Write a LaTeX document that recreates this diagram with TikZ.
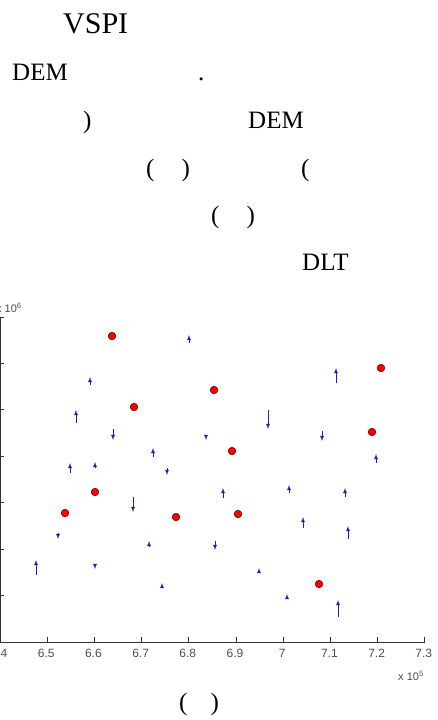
\documentclass[tikz,border=0pt]{standalone}
\usepackage{fontspec}
\setmainfont{Liberation Serif}
\setsansfont{Liberation Sans}
\usetikzlibrary{arrows,positioning}
\definecolor{mblue}{RGB}{30,30,190}
\tikzstyle{txt} = [
  inner sep = 0pt, anchor = base west, font = \fontsize{25}{30}\selectfont
]
\tikzstyle{ticklab} = [
  inner sep = 0pt, anchor = base, text = black!70,
  font = \sffamily\fontsize{12}{14}\selectfont
]
\tikzstyle{axis} = [draw = black!80, line width = 0.9pt]
\tikzstyle{gcp} = [fill = red, draw = black!60!red, line width = 0.6pt]
\tikzstyle{vec} = [-latex, draw = mblue, line width = 0.75pt]

\begin{document}
\begin{tikzpicture}[x=1pt, y=1pt]
    \useasboundingbox (0,0) rectangle (437,-720);

    % text lines above the plot
    \node[txt, font=\fontsize{30}{36}\selectfont] (vspi) at (63,-33) {VSPI};
    \node[txt] (dem-a) at (12,-80) {DEM};
    \node[txt] (stop) at (198,-80) {.};
    \node[txt] (close-a) at (83,-128) {)};
    \node[txt] (dem-b) at (248,-128) {DEM};
    \node[txt] (pair-a) at (146,-176) {(\hspace{27pt})};
    \node[txt] (open-a) at (301,-176) {(};
    \node[txt] (pair-b) at (211,-223) {(\hspace{27pt})};
    \node[txt] (dlt) at (302,-270) {DLT};

    % axes
    \draw[axis] (0,-317) -- (0,-642) -- (425,-642);
    \foreach \j in {0,...,6}
      \draw[axis] (0,-317-46.43*\j) -- (4,-317-46.43*\j);
    \foreach \i/\lab in {0/6.4,1/6.5,2/6.6,3/6.7,4/6.8,5/6.9,6/7,7/7.1,8/7.2,9/7.3} {
      \draw[axis] (47.2*\i,-642) -- (47.2*\i,-637);
      \node[ticklab] (xt\i) at (47.2*\i-1,-657) {\lab};
    }
    \node[ticklab, anchor=base east, font=\sffamily\fontsize{11}{13}\selectfont] (xexp) at (424,-680) {x 10\textsuperscript{5}};
    \node[ticklab, anchor=base west, font=\sffamily\fontsize{11}{13}\selectfont] (yexp) at (-4,-312) {x 10\textsuperscript{6}};

    % control points
    \foreach \x/\y in {112/336,214/390,134/407,381/368,372/432,232/451,
                       95/492,65/513,176/517,238/514,319/584}
      \filldraw[gcp] (\x,-\y) circle (3.8);

    % displacement vectors
    \foreach \x/\ya/\yb in {189/343/335,90/385/377,76/423/410,113/429/440,
                            268/410/429,206/435/440,153/457/448,336/383/368,
                            322/431/441,376/463/454,70/473/463,95/467/462,
                            167/468/475,133/497/512,58/533/539,36/575/560,
                            95/565/569,223/498/488,149/546/541,215/541/550,
                            162/587/583,259/571/568,287/597/594,289/493/485,
                            303/528/517,345/497/488,348/539/526,338/617/600}
      \draw[vec] (\x,-\ya) -- (\x,-\yb);

    % caption
    \node[txt] (pair-c) at (179,-710) {(\hspace{23pt})};
\end{tikzpicture}
\end{document}
